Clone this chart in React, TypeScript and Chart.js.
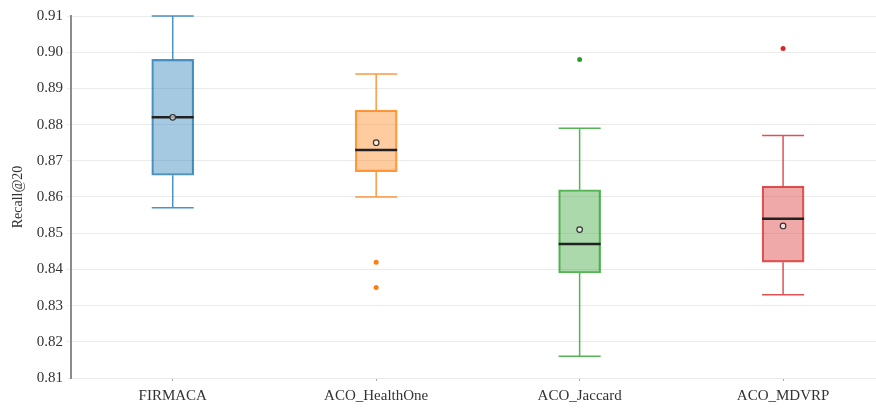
import React, { useEffect, useRef } from "react";
import { Chart, registerables } from "chart.js";

Chart.register(...registerables);

const categories = ["FIRMACA", "ACO_HealthOne", "ACO_Jaccard", "ACO_MDVRP"];
const whiskerLow = [0.857, 0.86, 0.816, 0.833];
const q1 = [0.866, 0.867, 0.839, 0.842];
const median = [0.882, 0.873, 0.847, 0.854];
const q3 = [0.898, 0.884, 0.862, 0.863];
const whiskerHigh = [0.91, 0.894, 0.879, 0.877];
const means = [0.882, 0.875, 0.851, 0.852];
const outliersHealthOne = [0.842, 0.835];
const outliersJaccard = [0.898];
const outliersMDVRP = [0.901];

const fillColors = [
  "rgba(31,119,180,0.4)",
  "rgba(255,127,14,0.4)",
  "rgba(44,160,44,0.4)",
  "rgba(214,39,40,0.4)",
];
const lineColors = [
  "rgba(31,119,180,0.8)",
  "rgba(255,127,14,0.8)",
  "rgba(44,160,44,0.8)",
  "rgba(214,39,40,0.8)",
];
const pointColors = ["#1f77b4", "#ff7f0e", "#2ca02c", "#d62728"];

const BOX_W = 42;
const FONT = "'Liberation Serif', 'Times New Roman', serif";

const boxParts = {
  id: "boxParts",
  afterDatasetDraw(chart: any, args: any) {
    if (args.index !== 0) return;
    const ctx = chart.ctx;
    const xs = chart.scales.x;
    const ys = chart.scales.y;
    ctx.save();
    categories.forEach((_, i) => {
      const cx = xs.getPixelForValue(i);
      const h = BOX_W / 2;
      ctx.strokeStyle = lineColors[i];
      ctx.lineWidth = 1.5;
      ctx.beginPath();
      ctx.moveTo(cx, ys.getPixelForValue(q3[i]));
      ctx.lineTo(cx, ys.getPixelForValue(whiskerHigh[i]));
      ctx.moveTo(cx - h, ys.getPixelForValue(whiskerHigh[i]));
      ctx.lineTo(cx + h, ys.getPixelForValue(whiskerHigh[i]));
      ctx.moveTo(cx, ys.getPixelForValue(q1[i]));
      ctx.lineTo(cx, ys.getPixelForValue(whiskerLow[i]));
      ctx.moveTo(cx - h, ys.getPixelForValue(whiskerLow[i]));
      ctx.lineTo(cx + h, ys.getPixelForValue(whiskerLow[i]));
      ctx.stroke();
      ctx.strokeStyle = "#222";
      ctx.lineWidth = 2.5;
      ctx.beginPath();
      const my = ys.getPixelForValue(median[i]);
      ctx.moveTo(cx - h, my);
      ctx.lineTo(cx + h, my);
      ctx.stroke();
    });
    ctx.restore();
  },
};

export default function App() {
  const ref = useRef<HTMLCanvasElement>(null);
  useEffect(() => {
    if (!ref.current) return;
    const outlierSets = [
      { cat: 1, vals: outliersHealthOne },
      { cat: 2, vals: outliersJaccard },
      { cat: 3, vals: outliersMDVRP },
    ];
    const chart = new Chart(ref.current, {
      type: "bar",
      data: {
        labels: categories,
        datasets: [
          {
            type: "bar",
            data: categories.map((_, i) => [q1[i], q3[i]]) as any,
            backgroundColor: fillColors,
            borderColor: lineColors,
            borderWidth: 1.5,
            borderSkipped: false,
            barThickness: BOX_W,
            order: 3,
          } as any,
          ...outlierSets.map((o) => ({
            type: "scatter",
            data: o.vals.map((v) => ({ x: categories[o.cat], y: v })),
            backgroundColor: pointColors[o.cat],
            borderColor: pointColors[o.cat],
            pointRadius: 2.5,
            borderWidth: 0,
            order: 2,
          })) as any,
          {
            type: "scatter",
            data: categories.map((c, i) => ({ x: c, y: means[i] })),
            backgroundColor: "rgba(255,255,255,0.6)",
            borderColor: "#333",
            borderWidth: 1.2,
            pointRadius: 2.8,
            order: 1,
          } as any,
        ],
      },
      options: {
        animation: false,
        responsive: false,
        devicePixelRatio: 1,
        layout: { padding: { top: 2, right: 0, left: 0, bottom: 0 } },
        plugins: { legend: { display: false }, tooltip: { enabled: false } },
        scales: {
          x: {
            type: "category",
            offset: true,
            grid: {
              display: true,
              offset: false,
              drawOnChartArea: false,
              drawTicks: true,
              tickLength: 3,
              color: "#aaa",
            },
            border: { display: false },
            ticks: {
              color: "#333",
              padding: 6,
              font: { family: FONT, size: 15 },
            },
            afterFit: (s: any) => {
              s.height = 34;
            },
          } as any,
          y: {
            min: 0.81,
            max: 0.91,
            ticks: {
              stepSize: 0.01,
              color: "#333",
              padding: 4,
              font: { family: FONT, size: 15 },
              callback: (v: any) => Number(v).toFixed(2),
            },
            grid: { color: "#ebebeb", tickLength: 4, lineWidth: 1 },
            border: { display: true, color: "#8c8c8c", width: 2 },
            title: {
              display: true,
              text: "Recall@20",
              color: "#333",
              font: { family: FONT, size: 14 },
              padding: { top: 2, bottom: 2 },
            },
            afterFit: (s: any) => {
              s.width = 63;
            },
          } as any,
        },
      },
      plugins: [boxParts],
    });
    return () => chart.destroy();
  }, []);
  return (
    <div
      style={{
        position: "absolute",
        left: 8,
        top: 3,
        width: 868,
        height: 409,
        overflow: "hidden",
      }}
    >
      <canvas ref={ref} width={882} height={409} style={{ display: "block", width: 882, height: 409 }} />
    </div>
  );
}
